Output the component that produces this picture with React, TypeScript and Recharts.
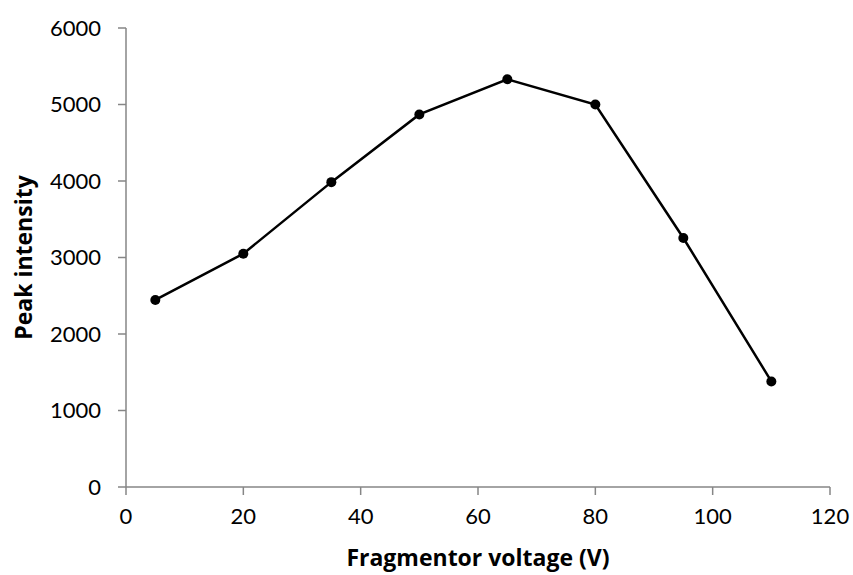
import React from 'react';
import { LineChart, Line, XAxis, YAxis } from 'recharts';

const voltages = [5, 20, 35, 50, 65, 80, 95, 110];
const intensities = [2445, 3050, 3985, 4870, 5330, 5000, 3255, 1380];
const xTicks = [0, 20, 40, 60, 80, 100, 120];
const yTicks = [0, 1000, 2000, 3000, 4000, 5000, 6000];

const data = voltages.map((v, i) => ({ voltage: v, intensity: intensities[i] }));

const tickFont = 'Lato, "Open Sans", sans-serif';
const titleFont = '"Open Sans", Lato, sans-serif';
const axisColor = '#868686';

// axis titles, placed from the axis viewBox
const XTitle = (props: any) => {
  const { x, width } = props.viewBox;
  return (
    <text x={x + width / 2} y={566} textAnchor="middle" fontFamily={titleFont} fontSize={23} fontWeight="bold" fill="#000">
      Fragmentor voltage (V)
    </text>
  );
};

const YTitle = (props: any) => {
  const { y, height } = props.viewBox;
  const cy = y + height / 2;
  return (
    <text x={23} y={cy} transform={`rotate(-90 23 ${cy})`} textAnchor="middle" dominantBaseline="central" fontFamily={titleFont} fontSize={23} fontWeight="bold" fill="#000">
      Peak intensity
    </text>
  );
};

const App: React.FC = () => {
  return (
    <div style={{ position: 'absolute', left: 0, top: 0, width: 853, height: 575, background: '#fff' }}>
      <LineChart width={853} height={575} data={data} margin={{ top: 28, right: 23, bottom: 0, left: 0 }}>
        <XAxis
          dataKey="voltage"
          type="number"
          domain={[0, 120]}
          ticks={xTicks}
          interval={0}
          height={88}
          stroke={axisColor}
          strokeWidth={1.5}
          tickSize={8}
          tickMargin={13}
          tick={{ fill: '#000', fontSize: 22, fontFamily: tickFont }}
          label={XTitle}
        />
        <YAxis
          type="number"
          domain={[0, 6000]}
          ticks={yTicks}
          interval={0}
          width={126}
          stroke={axisColor}
          strokeWidth={1.5}
          tickSize={8}
          tickMargin={17}
          tick={{ fill: '#000', fontSize: 22, fontFamily: tickFont }}
          label={YTitle}
        />
        <Line
          dataKey="intensity"
          stroke="#000"
          strokeWidth={2.5}
          dot={{ r: 5, fill: '#000', stroke: '#000', strokeWidth: 0 }}
          isAnimationActive={false}
        />
      </LineChart>
    </div>
  );
};

export default App;
